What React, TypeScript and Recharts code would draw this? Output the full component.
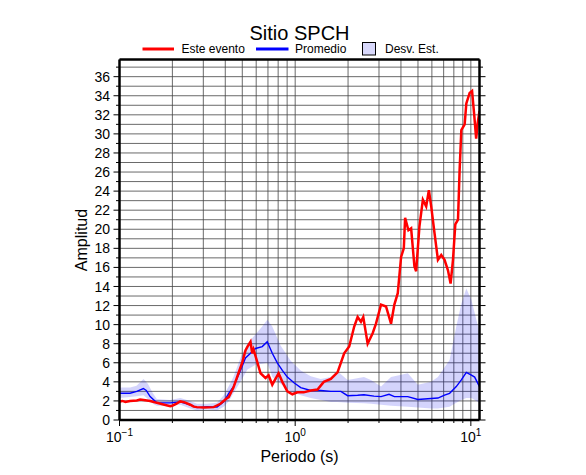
import React from 'react'
import {
  ComposedChart,
  Line,
  Area,
  XAxis,
  YAxis,
  CartesianGrid,
} from 'recharts'

// periods (s) and amplitudes
const redPeriod = [
  0.1, 0.104, 0.108, 0.1148, 0.1254, 0.131, 0.137, 0.1494, 0.1632, 0.18, 0.1944, 0.1995,
  0.21, 0.2216, 0.235, 0.2529, 0.2642, 0.2761, 0.3012, 0.3436, 0.3752, 0.41, 0.4187,
  0.4452, 0.4755, 0.4992, 0.5213, 0.5353, 0.5568, 0.5694, 0.5793, 0.6081, 0.6351, 0.6782,
  0.7056, 0.7408, 0.8047, 0.845, 0.9025, 0.9638, 1.029, 1.118, 1.227, 1.34, 1.455, 1.596,
  1.742, 1.901, 2.03, 2.168, 2.267, 2.368, 2.441, 2.586, 2.761, 2.884, 3.081, 3.289, 3.513,
  3.669, 3.837, 4.008, 4.153, 4.225, 4.413, 4.571, 4.774, 4.882, 5.097, 5.332, 5.568,
  5.769, 5.947, 6.211, 6.495, 6.782, 7.084, 7.408, 7.667, 7.912, 8.156, 8.45, 8.63, 8.826,
  9.218, 9.425, 9.843, 10.16, 10.45, 10.72, 10.95, 11.2,
]
const redAmp = [
  1.95, 2.0, 1.9, 2.0, 2.05, 2.15, 2.1, 2.0, 1.8, 1.6, 1.45, 1.5,
  1.7, 1.95, 1.85, 1.6, 1.4, 1.35, 1.3, 1.35, 1.7, 2.3, 2.4,
  3.4, 4.9, 6.0, 7.3, 7.7, 8.2, 7.0, 7.4, 6.1, 4.9, 4.4,
  4.7, 3.7, 4.9, 4.0, 3.0, 2.7, 2.9, 2.9, 3.1, 3.2, 4.0, 4.3,
  5.0, 7.0, 7.7, 9.8, 10.8, 10.3, 10.8, 8.0, 9.1, 10.1, 12.1, 11.9, 10.1,
  12.1, 13.3, 17.1, 18.0, 21.2, 19.9, 20.1, 16.1, 15.6, 20.3, 23.1, 22.4,
  24.1, 22.4, 19.6, 16.8, 17.3, 16.8, 15.7, 14.3, 16.8, 20.5, 21.0, 26.2, 30.4,
  31.0, 33.2, 34.3, 34.5, 32.0, 29.5, 31.2, 32.4,
]

const bluePeriod = [
  0.1, 0.1148, 0.1254, 0.1368, 0.142, 0.1494, 0.1632, 0.1944, 0.2216, 0.2529, 0.2761,
  0.315, 0.3593, 0.3918, 0.4187, 0.4452, 0.4882, 0.5213, 0.5568, 0.5947, 0.6494, 0.6935,
  0.7408, 0.7911, 0.845, 0.9025, 0.9843, 1.075, 1.227, 1.399, 1.596, 1.82, 1.988, 2.267,
  2.463, 2.809, 3.081, 3.422, 3.669, 4.377, 4.992, 5.947, 6.495, 7.084, 7.566, 8.262,
  8.826, 9.425, 10.07, 10.51, 11.2,
]
const blueAmp = [
  2.8, 2.8, 3.0, 3.3, 3.1, 2.45, 1.8, 1.8, 1.9, 1.6, 1.3,
  1.4, 1.35, 1.9, 2.8, 3.5, 5.2, 6.5, 7.0, 7.5, 7.7, 8.2,
  7.0, 6.0, 5.2, 4.5, 3.9, 3.4, 3.1, 3.1, 3.0, 3.0, 2.55, 2.6,
  2.65, 2.5, 2.45, 2.7, 2.45, 2.45, 2.15, 2.25, 2.3, 2.6, 2.8, 3.5,
  4.2, 5.0, 4.7, 4.5, 3.5,
]

const bandPeriod = [
  0.1, 0.115, 0.125, 0.137, 0.145, 0.155, 0.163, 0.194, 0.222, 0.253, 0.276, 0.315, 0.359,
  0.392, 0.42, 0.445, 0.488, 0.535, 0.595, 0.649, 0.694, 0.741, 0.826, 0.943, 1.075, 1.227,
  1.399, 1.596, 1.742, 1.988, 2.463, 2.7, 3.081, 3.513, 4.377, 4.992, 5.947, 6.495, 7.566,
  8.262, 8.826, 9.425, 10.07, 10.99, 11.2,
]
const bandLow = [
  2.3, 2.4, 2.5, 2.6, 2.2, 1.7, 1.5, 1.5, 1.6, 1.2, 1.0, 1.1, 1.0,
  1.4, 2.0, 2.8, 4.0, 5.3, 5.8, 5.9, 6.0, 4.5, 3.8, 3.0, 2.6, 2.3,
  2.1, 1.9, 1.9, 1.8, 1.75, 1.7, 1.6, 1.5, 1.4, 1.3, 1.2, 1.2, 1.4,
  1.8, 2.1, 2.3, 2.3, 1.9, 1.8,
]
const bandHigh = [
  3.4, 3.4, 3.6, 4.3, 3.8, 2.8, 2.2, 2.1, 2.3, 2.0, 1.7, 1.7, 1.8,
  2.6, 3.6, 4.5, 6.5, 8.0, 9.0, 9.8, 10.5, 9.8, 7.8, 6.2, 5.2, 4.6,
  4.3, 4.5, 5.1, 4.2, 4.5, 4.2, 3.5, 4.5, 4.9, 3.7, 4.0, 4.5, 6.3,
  9.8, 12.2, 13.8, 12.6, 9.8, 9.0,
]

const xTicks = [0.1, 0.2, 0.3, 0.4, 0.5, 0.6, 0.7, 0.8, 0.9, 1, 2, 3, 4, 5, 6, 7, 8, 9, 10]
const decades = [0.1, 1, 10]
const decadeExp = ['\u22121', '0', '1']
const yTicks = Array.from({ length: 38 }, (_, i) => i)

const redData = redPeriod.map((p, i) => ({ p, amp: redAmp[i] }))
const blueData = bluePeriod.map((p, i) => ({ p, amp: blueAmp[i] }))
const bandData = bandPeriod.map((p, i) => ({ p, band: [bandLow[i], bandHigh[i]] }))

const FONT = '"Liberation Sans", Arial, Helvetica, sans-serif'

function BottomTick(props: any) {
  const { x, y, payload } = props
  const k = decades.indexOf(payload.value)
  const major = k >= 0
  return (
    <g>
      <line x1={x} x2={x} y1={y} y2={y + (major ? 6 : 3)} stroke="#000" strokeWidth={1} />
      {major && (
        <text x={x} y={y + 21.5} textAnchor="middle" fontSize={14} fontFamily={FONT} fill="#000">
          10
          <tspan dy={-6} fontSize={10}>
            {decadeExp[k]}
          </tspan>
        </text>
      )}
    </g>
  )
}

function TopTick(props: any) {
  const { x, y, payload } = props
  if (decades.indexOf(payload.value) < 0) return <g />
  return <line x1={x} x2={x} y1={y} y2={y - 6} stroke="#000" strokeWidth={1} />
}

function LeftTick(props: any) {
  const { x, y, payload } = props
  const major = payload.value % 2 === 0
  return (
    <g>
      <line x1={x - (major ? 6 : 3.5)} x2={x} y1={y} y2={y} stroke="#000" strokeWidth={1} />
      {major && (
        <text x={x - 9.5} y={y} dy="0.36em" textAnchor="end" fontSize={14} fontFamily={FONT} fill="#000">
          {payload.value}
        </text>
      )}
    </g>
  )
}

function RightTick(props: any) {
  const { x, y, payload } = props
  const major = payload.value % 2 === 0
  return <line x1={x} x2={x + (major ? 6 : 3.5)} y1={y} y2={y} stroke="#000" strokeWidth={1} />
}

export default function App() {
  const frame = { stroke: '#000', strokeWidth: 2.5 }
  return (
    <div style={{ position: 'absolute', left: 0, top: 0, width: 586, height: 475, background: '#fff' }}>
      <ComposedChart
        width={586}
        height={475}
        margin={{ top: 39.5, right: 86.5, bottom: 25, left: 79.5 }}
      >
        <CartesianGrid stroke="#444" strokeWidth={0.8} />
        <XAxis
          dataKey="p"
          type="number"
          scale="log"
          domain={[0.1, 11.2]}
          allowDataOverflow
          ticks={xTicks}
          interval={0}
          tickSize={0}
          tickMargin={0}
          tick={<BottomTick />}
          axisLine={frame}
          height={30}
        />
        <XAxis
          xAxisId="top"
          orientation="top"
          type="number"
          scale="log"
          domain={[0.1, 11.2]}
          allowDataOverflow
          ticks={xTicks}
          interval={0}
          tickSize={0}
          tickMargin={0}
          tick={<TopTick />}
          axisLine={frame}
          height={20}
        />
        <YAxis
          type="number"
          domain={[0, 37.8]}
          allowDataOverflow
          ticks={yTicks}
          interval={0}
          tickSize={0}
          tickMargin={0}
          tick={<LeftTick />}
          axisLine={frame}
          width={40}
        />
        <YAxis
          yAxisId="right"
          orientation="right"
          type="number"
          domain={[0, 37.8]}
          allowDataOverflow
          ticks={yTicks}
          interval={0}
          tickSize={0}
          tickMargin={0}
          tick={<RightTick />}
          axisLine={frame}
          width={20}
        />
        <Area
          data={bandData}
          dataKey="band"
          type="linear"
          stroke="none"
          fill="#0000ee"
          fillOpacity={0.17}
          isAnimationActive={false}
        />
        <Line
          data={blueData}
          dataKey="amp"
          type="linear"
          stroke="#0000ff"
          strokeWidth={1.4}
          dot={false}
          isAnimationActive={false}
        />
        <Line
          data={redData}
          dataKey="amp"
          type="linear"
          stroke="#ff0000"
          strokeWidth={2.5}
          dot={false}
          isAnimationActive={false}
        />
      </ComposedChart>
      <svg
        width={586}
        height={475}
        style={{ position: 'absolute', left: 0, top: 0, pointerEvents: 'none' }}
        fontFamily={FONT}
      >
        <text x={299.5} y={40} textAnchor="middle" fontSize={20}>
          Sitio SPCH
        </text>
        <line x1={142.5} x2={174} y1={49} y2={49} stroke="#ff0000" strokeWidth={3} />
        <text x={181.5} y={52.5} fontSize={12}>
          Este evento
        </text>
        <line x1={256} x2={288.5} y1={49} y2={49} stroke="#0000ff" strokeWidth={3} />
        <text x={295} y={52.5} fontSize={12}>
          Promedio
        </text>
        <rect x={362.5} y={42.5} width={13} height={12.5} fill="#d8d8fb" stroke="#000" strokeWidth={1} />
        <text x={385} y={52.5} fontSize={12}>
          Desv. Est.
        </text>
        <text x={86.5} y={240} textAnchor="middle" fontSize={16} transform="rotate(-90 86.5 240)">
          Amplitud
        </text>
        <text x={299.5} y={461.5} textAnchor="middle" fontSize={16}>
          Periodo (s)
        </text>
      </svg>
    </div>
  )
}
